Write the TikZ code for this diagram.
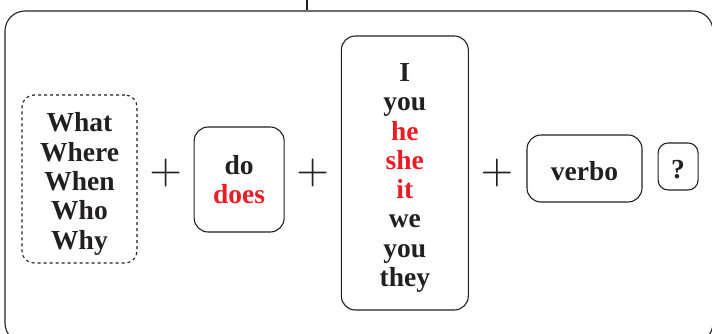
\documentclass[tikz,border=0pt]{standalone}
\usepackage{graphicx}
\usepackage{fontspec}
\setmainfont{Liberation Serif}
\usetikzlibrary{positioning}
\definecolor{ink}{HTML}{231F20}
\definecolor{hl}{HTML}{ED1C24}
\tikzset{%
  frame/.style = {rectangle, draw=ink, line width=1.1pt, rounded corners=20pt, inner sep=0pt},
  word/.style  = {rectangle, draw=ink, line width=1.1pt, rounded corners=14pt, inner sep=0pt,
                  align=center, text=ink, font=\fontsize{27.5}{29.3}\selectfont\bfseries},
  whbox/.style = {word, dashed, rounded corners=12pt},
  plus/.style  = {text=ink, inner sep=0pt}
}
\newcommand{\bigplus}{\scalebox{4.2}{$+$}}
\newcommand{\padtop}[1]{\rule{0pt}{#1}}

\begin{document}
\begin{tikzpicture}[x=1pt, y=-1pt, node distance=11.5pt]
    \clip (0,0) rectangle (712,333);

    \node (frame)  [frame, minimum width=708pt, minimum height=332pt] at (359,177) {};
    \coordinate (tap) at (307,0);

    \node (wh)     [whbox, minimum width=115pt, minimum height=168pt] at (79.5,179)
                   {\padtop{29pt}What\\Where\\When\\Who\\Why};
    \node (plusa)  [plus, right = of wh, yshift=6pt]                          {\bigplus};
    \node (aux)    [word, right = of plusa, yshift=-6.5pt,
                    minimum width=90pt, minimum height=105pt]                 {do\\\textcolor{hl}{does}};
    \node (plusb)  [plus, right = of aux, yshift=6.5pt]                       {\bigplus};
    \node (subj)   [word, right = of plusb, minimum width=127pt, minimum height=274pt]
                   {\padtop{28pt}I\\you\\\textcolor{hl}{he}\\\textcolor{hl}{she}\\\textcolor{hl}{it}\\we\\you\\they};
    \node (plusc)  [plus, right = of subj]                                    {\bigplus};
    \node (verb)   [word, right = 13pt of plusc, yshift=4.5pt,
                    minimum width=115pt, minimum height=67pt]                 {\padtop{24pt}verbo};
    \node (qmark)  [word, right = 15pt of verb, yshift=2pt, rounded corners=10pt,
                    minimum width=40pt, minimum height=47pt]                  {\padtop{24pt}?};

    \draw[ink, line width=1.1pt] (tap) -- (tap |- frame.north);
\end{tikzpicture}
\end{document}
